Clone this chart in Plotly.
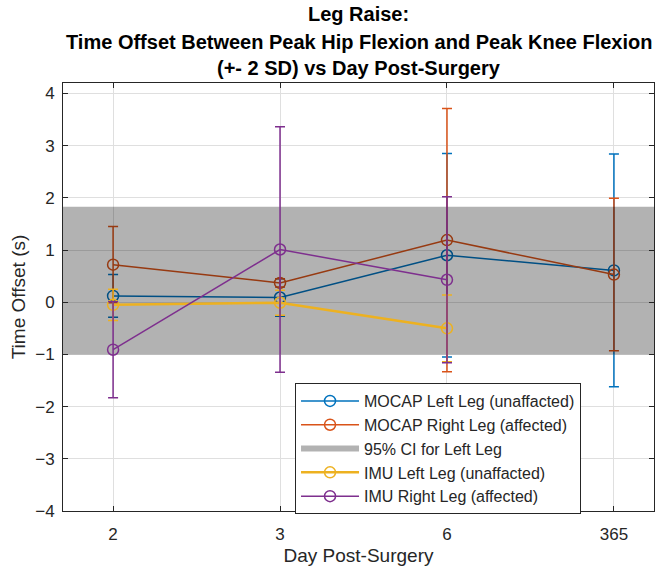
import plotly.graph_objects as go

# Day post-surgery categories
days = ["2", "3", "6", "365"]

# MOCAP means and 2-SD half-widths (s)
mocap_left_mean = [0.12, 0.09, 0.90, 0.61]
mocap_left_2sd = [0.41, 0.36, 1.95, 2.23]
mocap_right_mean = [0.72, 0.37, 1.19, 0.53]
mocap_right_2sd = [0.73, 0.08, 2.52, 1.46]

# IMU means and 2-SD half-widths (s); no IMU data at day 365
imu_left_mean = [-0.05, -0.01, -0.50]
imu_left_2sd = [0.30, 0.24, 0.64]
imu_right_mean = [-0.91, 1.01, 0.43]
imu_right_2sd = [0.92, 2.35, 1.59]

# 95% confidence interval for the left leg
ci_left = [-1.0, 1.83]

title_lines = [
    "Leg Raise:",
    "Time Offset Between Peak Hip Flexion and Peak Knee Flexion",
    "(+- 2 SD) vs Day Post-Surgery",
]

FONT = "Liberation Sans, Arial, Helvetica, sans-serif"
TXT = "#262626"
BLUE, ORANGE, YELLOW, PURPLE = "#0072BD", "#D95319", "#EDB120", "#7E2F8E"

xpos = list(range(1, len(days) + 1))
x_range = [0.70, 4.24]
y_range = [-4.0, 4.2]


def series(name, mean, sd, color, lw):
    return go.Scatter(
        x=xpos[: len(mean)],
        y=mean,
        name=name,
        mode="lines+markers",
        line=dict(color=color, width=lw),
        marker=dict(symbol="circle-open", size=11, color=color,
                    line=dict(width=1.5, color=color)),
        error_y=dict(type="data", array=sd, visible=True, color=color,
                     thickness=1.5, width=5),
    )


fig = go.Figure()
fig.add_trace(series("MOCAP Left Leg (unaffacted)", mocap_left_mean, mocap_left_2sd, BLUE, 1.5))
fig.add_trace(series("MOCAP Right Leg (affected)", mocap_right_mean, mocap_right_2sd, ORANGE, 1.5))

# translucent band across the whole axis width
fig.add_trace(go.Scatter(
    x=[x_range[0], x_range[1], x_range[1], x_range[0], x_range[0]],
    y=[ci_left[0], ci_left[0], ci_left[1], ci_left[1], ci_left[0]],
    name="95% CI for Left Leg",
    mode="none",
    fill="toself",
    fillcolor="rgba(0,0,0,0.3)",
    hoverinfo="skip",
))

fig.add_trace(series("IMU Left Leg (unaffacted)", imu_left_mean, imu_left_2sd, YELLOW, 2.5))
fig.add_trace(series("IMU Right Leg (affected)", imu_right_mean, imu_right_2sd, PURPLE, 1.5))

axis_common = dict(
    showline=True, linecolor=TXT, linewidth=1, mirror="ticks",
    ticks="inside", ticklen=5, tickcolor=TXT,
    showgrid=True, gridcolor="#dfdfdf", gridwidth=1,
    zeroline=False,
    tickfont=dict(family=FONT, size=17, color=TXT),
)

fig.update_layout(
    width=655, height=570,
    margin=dict(l=63, r=1, t=83, b=59),
    paper_bgcolor="white", plot_bgcolor="white",
    font=dict(family=FONT, color=TXT),
    showlegend=True,
    legend=dict(
        x=0.3926, y=0.299, xanchor="left", yanchor="top",
        bgcolor="white", bordercolor=TXT, borderwidth=1,
        font=dict(family=FONT, size=16, color=TXT),
        tracegroupgap=0, itemwidth=58,
    ),
    xaxis=dict(
        range=x_range, tickmode="array", tickvals=xpos, ticktext=days,
        title=dict(text="Day Post-Surgery", font=dict(family=FONT, size=19, color=TXT), standoff=5),
        ticklabelstandoff=8,
        **axis_common,
    ),
    yaxis=dict(
        range=y_range, tickmode="array", tickvals=list(range(-4, 5)),
        title=dict(text="Time Offset (s)", font=dict(family=FONT, size=19, color=TXT), standoff=4),
        ticklabelstandoff=4,
        **axis_common,
    ),
)

# three-line bold title above the axes
title_y_px = [14, 42, 68]
plot_top, plot_h = 83, 428
for line, py in zip(title_lines, title_y_px):
    fig.add_annotation(
        text=f"<b>{line}</b>", xref="paper", yref="paper",
        x=0.5, y=1 + (plot_top - py) / plot_h,
        xanchor="center", yanchor="middle", showarrow=False,
        font=dict(family=FONT, size=20, color="black"),
    )

fig.write_html("out.html")
